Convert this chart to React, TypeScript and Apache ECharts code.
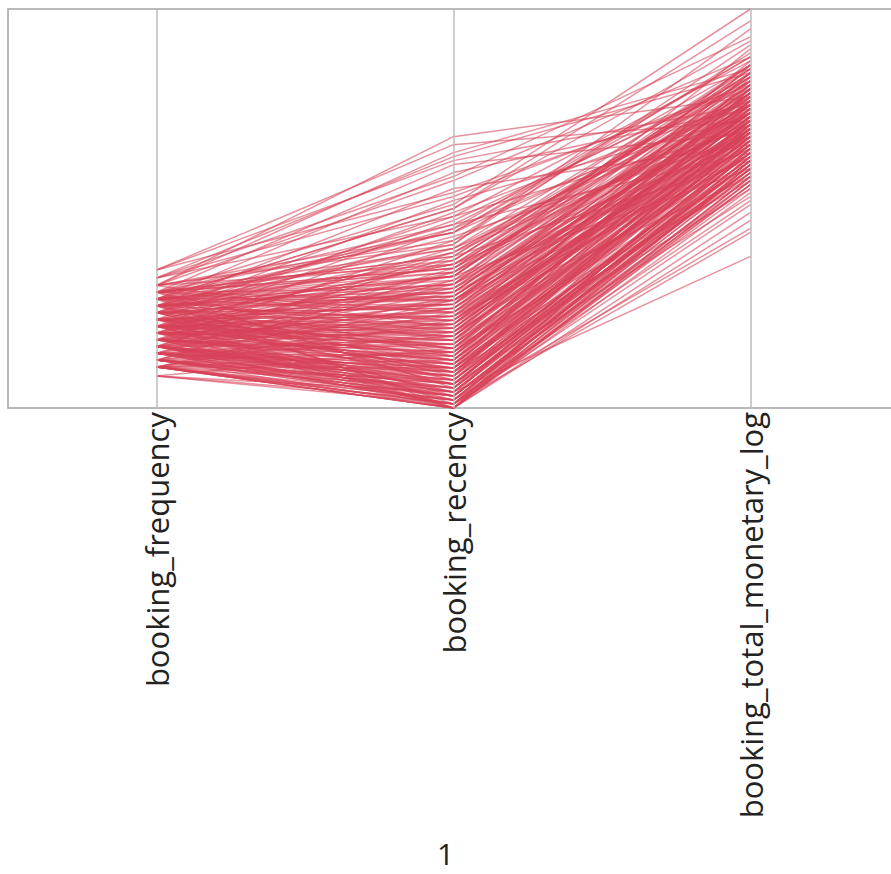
import React, { useEffect, useRef } from "react";
import * as echarts from "echarts";

// Parallel profile of booking customers: each line is one customer,
// values are scaled to 0–100 on every dimension.
const dimensions = ["booking_frequency", "booking_recency", "booking_total_monetary_log"];

const bookingFrequency = [
  30.7, 34.6, 32.6, 29.0, 27.3, 30.7, 25.6, 34.6, 23.9, 29.0,
  27.3, 22.2, 32.6, 20.5, 25.6, 18.8, 29.0, 23.9, 17.1, 30.7,
  27.3, 20.5, 15.4, 25.6, 22.2, 13.7, 29.0, 18.8, 23.9, 12.0,
  27.3, 20.5, 17.1, 25.6, 15.4, 22.2, 10.3, 29.0, 18.8, 23.9,
  13.7, 27.3, 20.5, 15.4, 25.6, 12.0, 17.1, 22.2, 30.7, 10.3,
  18.8, 23.9, 13.7, 27.3, 15.4, 20.5, 8.0, 25.6, 12.0, 17.1,
  22.2, 29.0, 10.3, 18.8, 13.7, 23.9, 15.4, 20.5, 27.3, 12.0,
  17.1, 25.6, 10.3, 22.2, 13.7, 18.8, 15.4, 29.0, 8.0, 20.5,
  12.0, 23.9, 17.1, 10.3, 25.6, 13.7, 15.4, 20.5, 18.8, 22.2,
  12.0, 27.3, 10.3, 8.0, 17.1, 13.7, 23.9, 15.4, 20.5, 10.3,
  25.6, 29.0, 12.0, 18.8, 15.4, 22.2, 13.7, 20.5, 27.3, 10.3,
  17.1, 23.9, 30.7, 18.8, 12.0, 15.4, 25.6, 22.2, 20.5, 13.7,
  29.0, 10.3, 17.1, 23.9, 27.3, 15.4, 20.5, 12.0, 18.8, 25.6,
  32.6, 22.2, 13.7, 17.1, 10.3, 29.0, 20.5, 15.4, 23.9, 27.3,
  18.8, 12.0, 25.6, 22.2, 13.7, 17.1, 30.7, 20.5, 10.3, 15.4,
  23.9, 27.3, 18.8, 12.0, 22.2, 15.4, 25.6, 20.5, 17.1, 29.0,
  27.3, 32.6, 25.6, 8.0, 34.6, 30.7, 10.3,
  22.2, 15.4, 27.3, 12.0, 18.8, 25.6, 13.7, 20.5, 29.0, 17.1,
  10.3, 23.9, 15.4, 20.5, 27.3, 12.0, 18.8, 22.2, 13.7, 25.6,
  17.1, 29.0, 10.3, 20.5, 15.4, 23.9, 12.0, 18.8, 27.3, 13.7,
  22.2, 17.1, 25.6, 10.3, 20.5, 15.4, 29.0, 12.0, 23.9, 18.8,
  13.7, 27.3, 17.1, 22.2, 10.3, 25.6, 15.4, 20.5, 12.0, 30.7,
  18.8, 13.7, 23.9, 17.1, 27.3, 10.3, 22.2, 15.4, 20.5, 25.6,
  12.0, 18.8, 29.0, 13.7, 22.2, 17.1, 10.3, 25.6, 15.4, 20.5,
  23.9, 12.0, 27.3, 18.8, 13.7, 22.2, 15.4, 10.3, 20.5, 17.1,
  25.6, 12.0, 18.8, 23.9, 13.7, 29.0, 15.4, 20.5, 22.2, 17.1,
];

const bookingRecency = [
  68, 66, 63, 61, 59, 57, 55, 54, 52, 51,
  50, 49, 48, 47, 46, 45, 44, 43, 42, 41,
  40, 39, 38, 37, 36, 35, 34, 34, 33, 32,
  31, 31, 30, 29, 29, 28, 27, 27, 26, 25,
  25, 24, 23, 23, 22, 21, 21, 20, 20, 19,
  19, 18, 18, 17, 16, 16, 15, 15, 14, 14,
  13, 13, 12, 12, 11, 11, 10, 10, 9, 9,
  8, 8, 7, 7, 6, 6, 5, 5, 4, 4,
  3, 3, 2, 2, 1, 1, 0, 0, 0, 0,
  0, 0, 1, 2, 3, 4, 6, 8, 10, 14,
  33, 38, 28, 22, 17, 26, 13, 30, 35, 24,
  19, 29, 42, 9, 6, 27, 12, 36, 21, 16,
  46, 5, 25, 39, 28, 11, 33, 18, 40, 7,
  53, 15, 31, 37, 10, 24, 2, 20, 14, 44,
  32, 3, 41, 23, 8, 12, 36, 27, 22, 1,
  48, 19, 4, 34, 9, 39, 26, 17, 6, 30,
  50, 58, 45, 1, 62, 64, 0,
  12, 4, 27, 2, 18, 31, 7, 22, 35, 15,
  1, 25, 9, 19, 29, 5, 14, 21, 3, 33,
  11, 38, 0, 24, 8, 28, 6, 17, 32, 10,
  26, 13, 30, 2, 20, 6, 40, 3, 23, 16,
  9, 34, 12, 18, 0, 27, 5, 15, 8, 44,
  21, 4, 26, 11, 36, 1, 19, 7, 13, 31,
  2, 16, 37, 10, 24, 14, 3, 22, 6, 17,
  29, 5, 33, 20, 1, 15, 9, 0, 11, 25,
  28, 4, 12, 21, 7, 35, 3, 18, 23, 10,
];

const bookingMonetaryLog = [
  78, 72, 84, 69, 75, 88, 66, 80, 73, 100,
  92, 77, 70, 82, 64, 76, 86, 68, 74, 95,
  71, 79, 62, 83, 67, 75, 72, 85, 60, 78,
  69, 90, 73, 65, 81, 76, 70, 63, 87, 74,
  68, 80, 58, 77, 71, 84, 66, 79, 73, 62,
  75, 69, 82, 64, 72, 86, 57, 76, 68, 61,
  74, 80, 65, 70, 59, 77, 67, 83, 72, 55,
  64, 78, 60, 71, 53, 68, 62, 75, 38, 66,
  57, 73, 45, 63, 69, 51, 58, 65, 54, 61,
  49, 70, 56, 52, 60, 67, 64, 71, 58, 66,
  85, 82, 74, 69, 79, 84, 72, 68, 76, 63,
  81, 78, 89, 70, 62, 75, 67, 80, 73, 64,
  83, 59, 77, 71, 74, 68, 86, 70, 78, 63,
  81, 76, 72, 84, 61, 69, 62, 74, 80, 77,
  65, 56, 91, 67, 73, 79, 74, 71, 66, 55,
  87, 72, 60, 76, 68, 82, 70, 75, 64, 79,
  97, 93, 88, 44, 76, 85, 47,
  72, 63, 79, 60, 70, 81, 65, 74, 84, 68,
  58, 76, 66, 73, 80, 62, 69, 77, 61, 83,
  67, 86, 56, 75, 64, 78, 62, 71, 82, 66,
  76, 69, 80, 59, 72, 65, 85, 61, 74, 70,
  64, 81, 68, 75, 57, 79, 63, 71, 60, 88,
  73, 62, 77, 67, 83, 58, 74, 65, 70, 80,
  59, 69, 84, 66, 76, 71, 60, 78, 64, 72,
  79, 63, 82, 73, 61, 75, 67, 57, 70, 77,
  81, 62, 68, 76, 65, 86, 60, 72, 74, 69,
];

const lineColor = "rgb(216, 66, 88)";

export default function App() {
  const ref = useRef<HTMLDivElement>(null);

  useEffect(() => {
    if (!ref.current) return;
    const chart = echarts.init(ref.current, undefined, { renderer: "svg" });

    const series: any[] = bookingFrequency.map((f, i) => ({
      type: "line",
      data: [f, bookingRecency[i], bookingMonetaryLog[i]],
      symbol: "none",
      silent: true,
      lineStyle: { color: lineColor, width: 1.5, opacity: 0.58 },
    }));

    // vertical guide at each dimension
    series.push({
      type: "line",
      data: [],
      silent: true,
      markLine: {
        silent: true,
        symbol: ["none", "none"],
        label: { show: false },
        lineStyle: { color: "#bdbdbd", width: 1.5, type: "solid" },
        data: dimensions.map((d) => ({ xAxis: d })),
      },
    });

    chart.setOption({
      animation: false,
      backgroundColor: "#ffffff",
      title: {
        text: "1",
        left: "center",
        top: 838,
        padding: 0,
        textStyle: {
          fontSize: 30,
          lineHeight: 31,
          fontWeight: "normal",
          color: "#222",
          fontFamily: "Open Sans",
        },
      },
      grid: {
        left: 8,
        top: 9,
        width: 891,
        height: 399,
        show: true,
        outerBoundsMode: "none",
        borderColor: "#a3a3a3",
        borderWidth: 1.5,
      },
      xAxis: {
        type: "category",
        data: dimensions,
        boundaryGap: true,
        axisLine: { show: false },
        axisTick: { show: false },
        splitLine: { show: false },
        axisLabel: {
          rotate: 90,
          margin: 4,
          fontSize: 31,
          color: "#222",
          fontFamily: "Open Sans",
          padding: [30, 0, 0, 0],
        },
      },
      yAxis: {
        type: "value",
        min: 0,
        max: 100,
        show: false,
        splitLine: { show: false },
      },
      series,
    });

    return () => chart.dispose();
  }, []);

  return (
    <div
      ref={ref}
      style={{ position: "absolute", left: 0, top: 0, width: 891, height: 874 }}
    />
  );
}
